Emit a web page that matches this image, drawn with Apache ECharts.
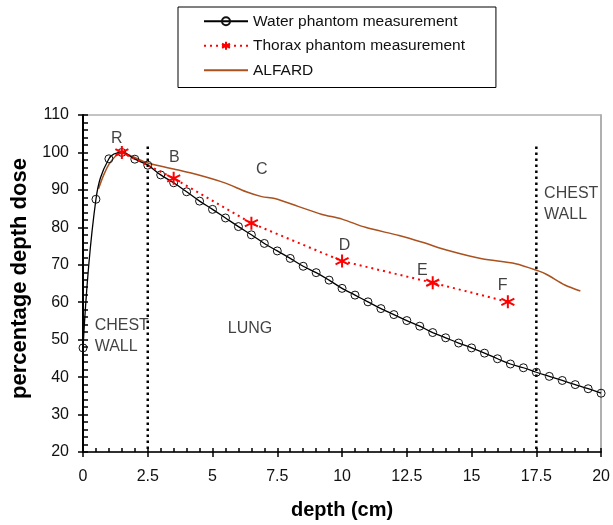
<!DOCTYPE html>
<html><head><meta charset="utf-8">
<script src="https://cdn.jsdelivr.net/npm/echarts@6/dist/echarts.min.js"></script>
<style>html,body{margin:0;padding:0;background:#fff;}#c{width:613px;height:525px;}</style>
</head><body><div id="c"></div>
<script>
// ---- data ----
const waterDepth = [0,0.5,1,1.5,2,2.5,3,3.5,4,4.5,5,5.5,6,6.5,7,7.5,8,8.5,9,9.5,10,10.5,11,11.5,12,12.5,13,13.5,14,14.5,15,15.5,16,16.5,17,17.5,18,18.5,19,19.5,20];
const waterDose  = [47.8,87.5,98.3,100,98.2,96.6,94.0,91.9,89.5,87.0,84.8,82.5,80.2,78.0,75.7,73.7,71.7,69.6,67.9,65.9,63.7,61.9,60.1,58.3,56.7,55.1,53.6,51.9,50.5,49.1,47.8,46.4,44.9,43.5,42.5,41.3,40.2,39.1,38.0,36.9,35.7];
const thoraxDepth = [1.5,3.5,6.5,10,13.5,16.4];
const thoraxDose  = [100,93.1,81.1,71.0,65.2,60.1];
const alfardDepth = [0.6,0.8,1.0,1.25,1.5,1.9,2.5,3.5,4.5,5.5,6.3,6.9,7.4,8.3,9.2,10.0,10.9,12.2,13.1,14.1,15.4,16.7,17.6,17.9,18.6,19.2];
const alfardDose  = [90.3,94.0,96.8,99.0,100,98.9,97.2,95.6,93.9,91.8,89.5,88.2,87.7,85.6,83.5,82.2,80.0,77.8,76.0,73.8,71.6,70.3,68.3,67.4,64.6,63.0];
const boundaryDepth = [2.5,17.5];
const boundaryTop = 101.6;
const boundaryBottom = 20;
const annText  = ['R','B','C','D','E','F','LUNG','CHEST\nWALL','CHEST\nWALL'];
const annDepth = [1.3,3.53,6.9,10.1,13.1,16.2,6.45,0.45,17.8];
const annDose  = [103.7,98.6,95.4,75.0,68.5,64.4,52.9,51.0,86.2];
const annLeftAligned = [false,false,false,false,false,false,false,true,true];
const xTicks = {min:0,max:20,interval:2.5};
const yTicks = {min:20,max:110,interval:10};

const FONT = "'Liberation Sans', Arial, sans-serif";
const chart = echarts.init(document.getElementById('c'));
const zip = (a,b) => a.map((v,i)=>[v,b[i]]);
const star = 'path://M0,-1L0,1M-0.87,-0.5L0.87,0.5M-0.87,0.5L0.87,-0.5';

const series = [
  {
    name:'Water phantom measurement', type:'line', data: zip(waterDepth, waterDose),
    smooth:0.4, symbol:'circle', symbolSize:8, z:3,
    lineStyle:{color:'#000', width:1.3},
    itemStyle:{color:'rgba(255,255,255,0)', borderColor:'#111', borderWidth:1}
  },
  {
    name:'Thorax phantom measurement', type:'line', data: zip(thoraxDepth, thoraxDose),
    symbol:star, symbolSize:13, z:4,
    lineStyle:{color:'#ff0000', width:2, type:[2,4]},
    itemStyle:{color:'#ff0000', borderColor:'#ff0000', borderWidth:2}
  },
  {
    name:'ALFARD', type:'line', data: zip(alfardDepth, alfardDose),
    smooth:0.3, symbol:'none', z:2,
    lineStyle:{color:'#a9511f', width:1.5},
    itemStyle:{color:'#a9511f'}
  }
];
boundaryDepth.forEach((d,i)=>{
  series.push({
    name:'boundary'+i, type:'line', data:[[d,boundaryTop],[d,boundaryBottom]],
    symbol:'none', silent:true, z:1,
    lineStyle:{color:'#000', width:2.5, type:[2.5,3.5]}
  });
});
series.push({
  name:'annotations', type:'scatter', symbolSize:0, silent:true, z:5,
  data: annText.map((t,i)=>({
    value:[annDepth[i], annDose[i]],
    label: annLeftAligned[i]
      ? {show:true, formatter:t, position:'right', distance:0, align:'left', lineHeight:21, fontSize:16, color:'#111', fontFamily:FONT}
      : {show:true, formatter:t, position:'inside', lineHeight:21, fontSize:16, color:'#111', fontFamily:FONT}
  }))
});

chart.setOption({
  animation:false,
  backgroundColor:'#fff',
  textStyle:{fontFamily:FONT},
  legend:{
    data:[
      {name:'Water phantom measurement'},
      {name:'Thorax phantom measurement'},
      {name:'ALFARD', itemStyle:{opacity:0}}
    ],
    orient:'vertical', left:178, top:7,
    padding:[6.25,31,9.25,25], itemGap:8.5, itemWidth:44, itemHeight:10,
    borderColor:'#000', borderWidth:1,
    textStyle:{fontSize:15.5, color:'#111', fontFamily:FONT}
  },
  grid:{left:83, right:9, top:115, bottom:70, show:true, borderColor:'#888', borderWidth:1},
  xAxis:[{
    type:'value', min:xTicks.min, max:xTicks.max, interval:xTicks.interval,
    name:'depth (cm)', nameLocation:'middle', nameGap:48,
    nameTextStyle:{fontSize:20, fontWeight:'bold', color:'#000', fontFamily:FONT},
    axisLine:{lineStyle:{color:'#000', width:1.5}},
    axisTick:{show:true, inside:false, length:5, lineStyle:{color:'#000', width:1.5}},
    minorTick:{show:false},
    axisLabel:{fontSize:16, color:'#111', margin:17, fontFamily:FONT},
    splitLine:{show:false}
  },{
    type:'value', min:xTicks.min, max:xTicks.max, interval:xTicks.interval, position:'bottom',
    axisLine:{show:false},
    axisTick:{show:true, inside:true, length:4, lineStyle:{color:'#000', width:1.5}},
    minorTick:{show:true, splitNumber:5, length:4, lineStyle:{color:'#000', width:1.5}},
    axisLabel:{show:false}, splitLine:{show:false}
  }],
  yAxis:[{
    type:'value', min:yTicks.min, max:yTicks.max, interval:yTicks.interval,
    name:'percentage depth dose', nameLocation:'middle', nameGap:49, nameRotate:90,
    nameTextStyle:{fontSize:22, fontWeight:'bold', color:'#000', fontFamily:FONT, padding:[0,0,0,10]},
    axisLine:{show:true, lineStyle:{color:'#000', width:2}},
    axisTick:{show:true, inside:false, length:5, lineStyle:{color:'#000', width:1.5}},
    axisLabel:{fontSize:16, color:'#111', margin:14, fontFamily:FONT},
    splitLine:{show:false}
  },{
    type:'value', min:yTicks.min, max:yTicks.max, interval:yTicks.interval, position:'left',
    axisLine:{show:false},
    axisTick:{show:true, inside:true, length:5, lineStyle:{color:'#000', width:1.5}},
    minorTick:{show:true, splitNumber:5, length:5, lineStyle:{color:'#000', width:1.5}},
    axisLabel:{show:false}, splitLine:{show:false}
  },{
    type:'value', min:yTicks.min, max:yTicks.max, position:'right',
    axisLine:{show:true, lineStyle:{color:'#b0b0b0', width:2}},
    axisTick:{show:false}, axisLabel:{show:false}, splitLine:{show:false}
  }],
  series: series
});
</script></body></html>
